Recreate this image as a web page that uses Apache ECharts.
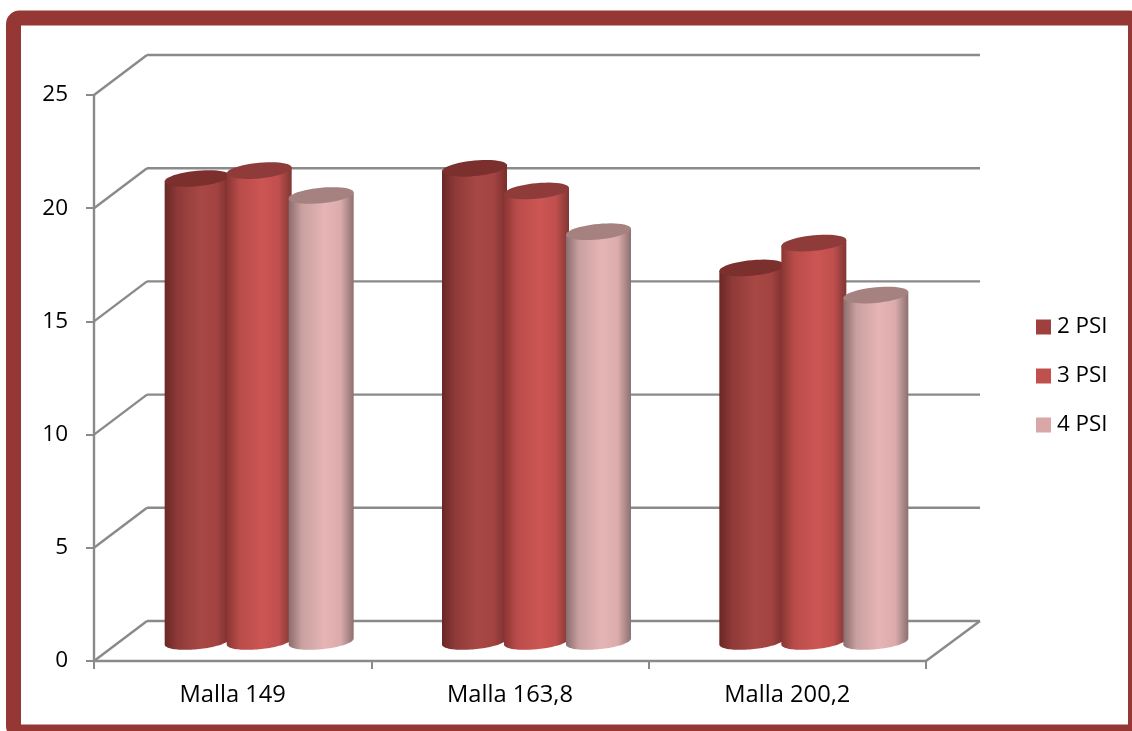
<!DOCTYPE html>
<html><head><meta charset="utf-8">
<style>html,body{margin:0;padding:0;background:#fff}#c{width:1132px;height:731px}</style>
<script src="https://cdn.jsdelivr.net/npm/echarts@6/dist/echarts.min.js"></script>
</head><body><div id="c"></div>
<script>
const categories = ['Malla 149', 'Malla 163,8', 'Malla 200,2'];
const psi2 = [20.45, 20.9, 16.5];
const psi3 = [20.8, 19.9, 17.6];
const psi4 = [19.7, 18.1, 15.3];
const yTicks = [0, 5, 10, 15, 20, 25];

const FONT = '"Open Sans"';
const AXIS = '#8A8A8A';
const DX = 53, DY = 40;            // oblique depth of the box
const CYL_W = 65, STEP = 62, RY = 7.8, TILT = 3;

const looks = [
  {name:'2 PSI', legend:'#9E403D', top:'#7B302E',
   stops:['#6A2725','#8E3A38','#A84845','#A24341','#7A2F2D']},
  {name:'3 PSI', legend:'#C0504D', top:'#8F3B39',
   stops:['#8A3634','#B94C49','#CC5654','#C04F4D','#803634']},
  {name:'4 PSI', legend:'#D9A7A7', top:'#A58180',
   stops:['#8A6C6C','#C9A0A0','#E6B4B4','#DBABAB','#8C7070']}
];

function ell(cx, cy, t){
  return [cx + CYL_W/2*Math.cos(t), cy + RY*Math.sin(t) - TILT*Math.cos(t)];
}
function cylinder(idx){
  return function(params, api){
    const base = api.coord([api.value(0), 0]);
    const top = api.coord([api.value(0), api.value(1)]);
    const cx = base[0] + DX/2 + (idx-1)*STEP;
    const by = base[1] - DY/2 + 0.5, ty = top[1] - DY/2 + 0.5;
    const n = 48, body = [], cap = [];
    body.push(ell(cx, ty, Math.PI));
    body.push(ell(cx, ty, 0));
    for(let i=0;i<=n;i++) body.push(ell(cx, by, Math.PI*i/n));
    for(let i=0;i<n;i++) cap.push(ell(cx, ty, 2*Math.PI*i/n));
    const s = looks[idx].stops;
    return {type:'group', children:[
      {type:'polygon', shape:{points:body}, style:{fill:{type:'linear',x:0,y:0,x2:1,y2:0,colorStops:[
        {offset:0,color:s[0]},{offset:.2,color:s[1]},{offset:.55,color:s[2]},{offset:.8,color:s[3]},{offset:1,color:s[4]}]}}},
      {type:'polygon', shape:{points:cap}, style:{fill:looks[idx].top}}
    ]};
  };
}
function wall(params, api){
  const v = api.value(0);
  const p = api.coord([0, v]);
  const x0 = params.coordSys.x, x1 = x0 + params.coordSys.width, y = p[1];
  const st = {stroke:AXIS, lineWidth:2.4, fill:'none'};
  const kids = [
    {type:'line', shape:{x1:x0,y1:y,x2:x0+DX,y2:y-DY}, style:st},
    {type:'line', shape:{x1:x0+DX,y1:y-DY,x2:x1+DX+1,y2:y-DY}, style:st}
  ];
  if(v===0) kids.push({type:'line', shape:{x1:x1,y1:y,x2:x1+DX+1,y2:y-DY}, style:st});
  return {type:'group', children:kids};
}
const chart = echarts.init(document.getElementById('c'), null, {renderer:'canvas'});
const vals = [psi2, psi3, psi4];
chart.setOption({
  animation:false,
  backgroundColor:'#fff',
  graphic:[{type:'rect', z:100, shape:{x:13.5,y:18,width:1122,height:714,r:6},
    style:{fill:'none',stroke:'#953735',lineWidth:15}}],
  grid:{left:94, top:95, width:832, height:566},
  legend:{orient:'vertical', left:1036, top:316, padding:0, itemWidth:15, itemHeight:15, itemGap:27,
    icon:'rect', data:looks.map(l=>l.name),
    textStyle:{fontFamily:FONT, fontSize:22.4, color:'#000', lineHeight:15, padding:[0,0,0,1]}},
  xAxis:{type:'category', data:categories, boundaryGap:true,
    axisLine:{lineStyle:{color:AXIS,width:2.4}},
    axisTick:{show:true,alignWithLabel:false,length:8,lineStyle:{color:AXIS,width:2}},
    axisLabel:{fontFamily:FONT,fontSize:23.7,color:'#000',margin:22}},
  yAxis:{type:'value', min:0, max:25, interval:5,
    axisLine:{show:true,lineStyle:{color:AXIS,width:2.4}},
    axisTick:{show:true,length:8,lineStyle:{color:AXIS,width:2}},
    splitLine:{show:false},
    axisLabel:{fontFamily:FONT,fontSize:22.5,color:'#000',margin:26,align:'right',verticalAlign:'middle',
      verticalAlignMinLabel:'middle',verticalAlignMaxLabel:'middle',padding:[3,0,0,0]}},
  series:[
    {type:'custom', silent:true, z:1, renderItem:wall, data:yTicks.map(v=>[v]), encode:{y:0}, clip:false},
    ...looks.map((l,i)=>({
      type:'custom', name:l.name, z:2+i, clip:false,
      itemStyle:{color:l.legend},
      renderItem:cylinder(i),
      encode:{x:0,y:1},
      data:categories.map((c,j)=>[j, vals[i][j]])
    }))
  ]
});
</script></body></html>
